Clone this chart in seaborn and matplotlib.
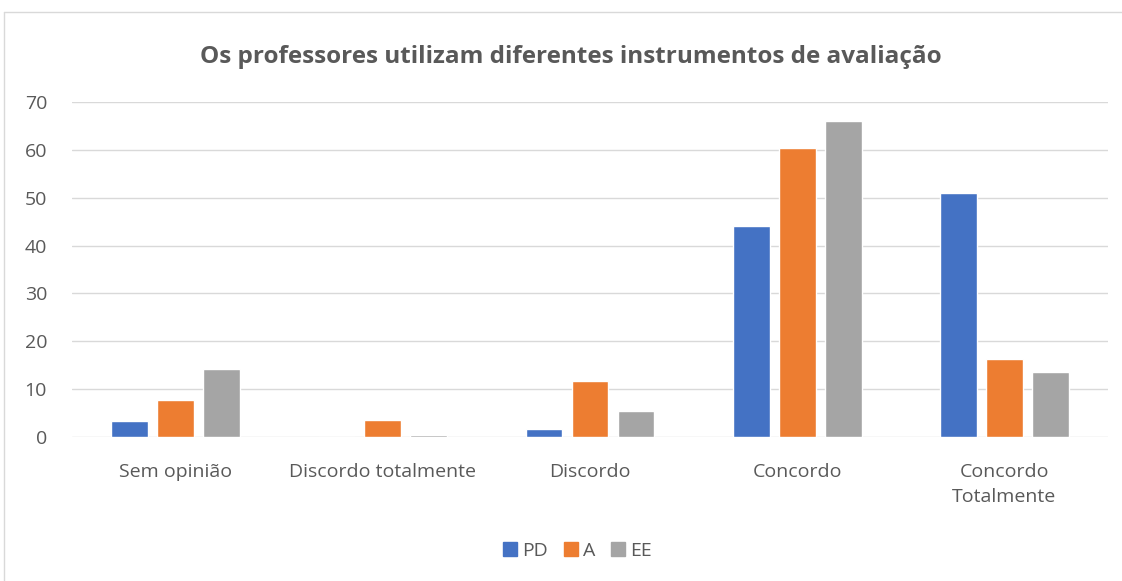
import pandas as pd
import seaborn as sns
import matplotlib.pyplot as plt
from matplotlib.lines import Line2D

# Values
categories = ["Sem opinião", "Discordo totalmente", "Discordo", "Concordo", "Concordo\nTotalmente"]
series = ["PD", "A", "EE"]
pd_vals = [3.3, 0.0, 1.6, 44.0, 50.9]
a_vals = [7.8, 3.5, 11.8, 60.4, 16.2]
ee_vals = [14.2, 0.5, 5.5, 66.0, 13.6]
colors = ["#4472C4", "#ED7D31", "#A5A5A5"]
title = "Os professores utilizam diferentes instrumentos de avaliação"

# long form table for seaborn
rows = []
for name, vals in zip(series, [pd_vals, a_vals, ee_vals]):
    for cat, v in zip(categories, vals):
        rows.append({"categoria": cat, "serie": name, "valor": v})
df = pd.DataFrame(rows)

sns.set_style("white")
plt.rcParams["font.family"] = ["Open Sans", "DejaVu Sans"]
text_color = "#595959"

fig = plt.figure(figsize=(11.22, 5.81), dpi=100)
ax = fig.add_axes([72 / 1122, 1 - 437 / 581, (1108 - 72) / 1122, (437 - 102) / 581])

sns.barplot(data=df, x="categoria", y="valor", hue="serie", order=categories,
            hue_order=series, palette=colors, width=0.665, gap=0.2,
            saturation=1, ax=ax, legend=False)

ax.set_ylim(0, 70)
ax.set_xlim(-0.5, 4.5)
ax.set_yticks(range(0, 71, 10))
ax.yaxis.grid(True, color="#d9d9d9", linewidth=1)
ax.set_axisbelow(True)
for s in ax.spines.values():
    s.set_visible(False)
ax.tick_params(axis="both", length=0, labelsize=14, colors=text_color)
ax.tick_params(axis="x", pad=19)
ax.tick_params(axis="y", pad=18)
for lab in ax.get_xticklabels():
    lab.set_linespacing(1.5)
ax.set_xlabel("")
ax.set_ylabel("")

fig.text(571 / 1122, 1 - 57 / 581, title, ha="center", va="center", fontsize=17.5,
         fontweight="bold", color=text_color)

handles = [Line2D([0], [0], marker="s", linestyle="", markersize=10,
                  markerfacecolor=c, markeredgecolor=c) for c in colors]
fig.legend(handles, series, loc="center", bbox_to_anchor=(577 / 1122, 1 - 551 / 581),
           ncol=3, frameon=False, fontsize=14, labelcolor=text_color,
           handletextpad=0.2, columnspacing=0.8, handlelength=0.8)

# outer chart border
fig.add_artist(Line2D([4 / 1122, 4 / 1122], [0, 1 - 12 / 581], color="#d9d9d9", lw=1))
fig.add_artist(Line2D([4 / 1122, 1], [1 - 12 / 581, 1 - 12 / 581], color="#d9d9d9", lw=1))

fig.savefig("out.png", dpi=100)
